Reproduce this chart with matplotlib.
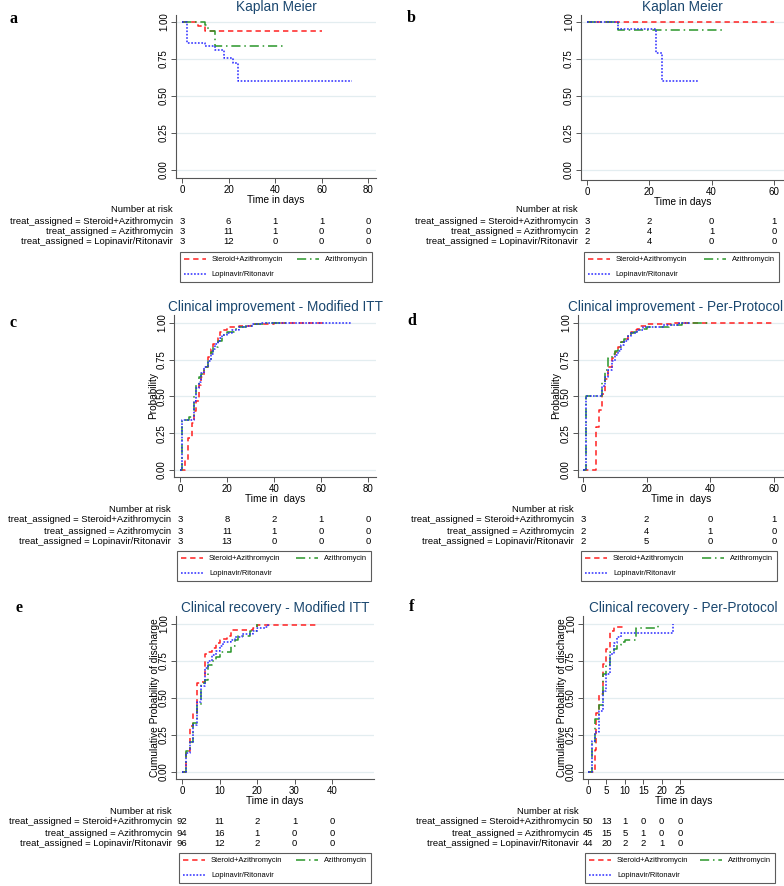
import matplotlib
matplotlib.use("Agg")
import matplotlib.pyplot as plt
from matplotlib.lines import Line2D
from matplotlib.transforms import blended_transform_factory

# ---- data ----
groups = ["Steroid+Azithromycin", "Azithromycin", "Lopinavir/Ritonavir"]

# a - Kaplan Meier (modified ITT)
a_ster_t = [0, 7, 10, 60]
a_ster_s = [1.0, 0.97, 0.94, 0.94]
a_azi_t = [0, 10, 11, 14, 44]
a_azi_s = [1.0, 0.98, 0.94, 0.84, 0.84]
a_lop_t = [0, 2, 10, 14, 18, 22, 24, 73]
a_lop_s = [1.0, 0.86, 0.835, 0.81, 0.76, 0.72, 0.60, 0.60]
a_risk_t = [0, 20, 40, 60, 80]
a_risk = [[3, 6, 1, 1, 0], [3, 11, 1, 0, 0], [3, 12, 0, 0, 0]]

# b - Kaplan Meier (per protocol)
b_ster_t = [0, 60]
b_ster_s = [1.0, 1.0]
b_azi_t = [0, 10, 44]
b_azi_s = [1.0, 0.944, 0.944]
b_lop_t = [0, 10, 22, 24, 36]
b_lop_s = [1.0, 0.95, 0.79, 0.60, 0.60]
b_risk_t = [0, 20, 40, 60]
b_risk = [[3, 2, 0, 1], [2, 4, 1, 0], [2, 4, 0, 0]]

# c - clinical improvement, modified ITT
c_ster_t = [0, 2, 3.5, 5, 6, 7, 8, 9, 10, 12, 13, 14, 16, 17, 18, 20, 22, 25, 30, 35, 40, 61]
c_ster_s = [0, 0.07, 0.22, 0.32, 0.40, 0.47, 0.58, 0.63, 0.70, 0.77, 0.82, 0.86, 0.90, 0.94,
            0.95, 0.97, 0.975, 0.98, 0.99, 0.995, 1.0, 1.0]
c_azi_t = [0, 1, 4, 6, 7, 8, 9, 10, 12, 13, 14, 16, 18, 20, 23, 25, 28, 32, 36, 45]
c_azi_s = [0, 0.34, 0.36, 0.50, 0.58, 0.63, 0.65, 0.70, 0.75, 0.80, 0.84, 0.88, 0.92, 0.94,
           0.96, 0.975, 0.98, 0.99, 1.0, 1.0]
c_lop_t = [0, 1, 6, 7, 8, 9, 10, 12, 13, 14, 15, 16, 17, 18, 20, 22, 25, 28, 31, 35, 73]
c_lop_s = [0, 0.34, 0.47, 0.56, 0.60, 0.66, 0.70, 0.74, 0.79, 0.82, 0.86, 0.88, 0.90, 0.92,
           0.93, 0.95, 0.97, 0.98, 0.99, 1.0, 1.0]
c_risk_t = [0, 20, 40, 60, 80]
c_risk = [[3, 8, 2, 1, 0], [3, 11, 1, 0, 0], [3, 13, 0, 0, 0]]

# d - clinical improvement, per protocol
d_ster_t = [0, 4, 5, 6, 7, 8, 9, 10, 11, 12, 13, 14, 15, 16, 17, 18, 20, 24, 28, 60]
d_ster_s = [0, 0.29, 0.41, 0.52, 0.62, 0.70, 0.76, 0.80, 0.84, 0.87, 0.89, 0.92, 0.94, 0.95,
            0.96, 0.98, 0.99, 0.995, 1.0, 1.0]
d_azi_t = [0, 1, 6, 7, 8, 9, 10, 11, 12, 13, 14, 15, 16, 18, 20, 23, 27, 31, 40]
d_azi_s = [0, 0.50, 0.60, 0.68, 0.76, 0.79, 0.81, 0.84, 0.87, 0.89, 0.91, 0.93, 0.94, 0.96,
           0.97, 0.975, 0.985, 1.0, 1.0]
d_lop_t = [0, 1, 6, 7, 8, 9, 10, 11, 12, 13, 14, 15, 17, 19, 21, 25, 30, 34]
d_lop_s = [0, 0.50, 0.57, 0.63, 0.68, 0.74, 0.78, 0.81, 0.85, 0.88, 0.91, 0.93, 0.95, 0.97,
           0.975, 0.985, 1.0, 1.0]
d_risk_t = [0, 20, 40, 60]
d_risk = [[3, 2, 0, 1], [2, 4, 1, 0], [2, 5, 0, 0]]

# e - clinical recovery, modified ITT
e_ster_t = [0, 1, 2, 3, 4, 5, 6, 7, 8, 9, 10, 11, 12, 13, 19, 20, 36]
e_ster_s = [0, 0.14, 0.31, 0.40, 0.60, 0.61, 0.80, 0.81, 0.84, 0.87, 0.89, 0.90, 0.92, 0.96,
            0.97, 0.99, 0.99]
e_azi_t = [0, 1, 2, 3, 4, 5, 6, 7, 8, 9, 10, 13, 14, 15, 18, 20]
e_azi_s = [0, 0.14, 0.20, 0.33, 0.45, 0.60, 0.62, 0.72, 0.75, 0.78, 0.81, 0.85, 0.89, 0.92,
           0.95, 1.0]
e_lop_t = [0, 1, 2, 3, 4, 5, 6, 7, 8, 9, 10, 11, 13, 14, 16, 19, 20, 22, 23]
e_lop_s = [0, 0.13, 0.20, 0.32, 0.47, 0.58, 0.70, 0.75, 0.79, 0.82, 0.85, 0.88, 0.89, 0.91,
           0.93, 0.95, 0.97, 0.98, 1.0]
e_risk_t = [0, 10, 20, 30, 40]
e_risk = [[92, 11, 2, 1, 0], [94, 16, 1, 0, 0], [96, 12, 2, 0, 0]]

# f - clinical recovery, per protocol
f_ster_t = [0, 2, 2.3, 3, 4, 5, 6, 7, 10]
f_ster_s = [0, 0.15, 0.40, 0.53, 0.73, 0.83, 0.95, 0.98, 0.98]
f_azi_t = [0, 1, 2, 3, 4, 5, 6, 7, 8, 9, 10, 13, 19]
f_azi_s = [0, 0.20, 0.36, 0.45, 0.66, 0.72, 0.81, 0.83, 0.86, 0.88, 0.89, 0.97, 1.0]
f_lop_t = [0, 1, 2, 3, 4, 5, 6, 7, 8, 9, 23]
f_lop_s = [0, 0.21, 0.27, 0.41, 0.55, 0.66, 0.80, 0.87, 0.91, 0.94, 1.0]
f_risk_t = [0, 5, 10, 15, 20, 25]
f_risk = [[50, 13, 1, 0, 0, 0], [45, 15, 5, 1, 0, 0], [44, 20, 2, 2, 1, 0]]

# ---- style ----
W, H = 784, 886
plt.rcParams['font.family'] = ['Liberation Sans', 'DejaVu Sans']
colors = ["#ff2020", "#2a962a", "#2a2aff"]
dashes = [(3.5, 2.5), (6, 2.5, 1, 2.5), (1.1, 1.1)]
title_col = "#1a476f"
grid_col = "#e3edf0"
axis_col = "#555555"

fig = plt.figure(figsize=(W / 100, H / 100), dpi=100)


def fx(px):
    return px / W


def fy(py):
    return 1 - py / H


def panel(letter, letter_xy, title, curves, risk_t, risk, ticks, box, xa, ya, ylabel,
          xlabel, rows_y, label_right, legend_box, title_dx=0):
    l, t, r, b = box
    ax = fig.add_axes([fx(l), fy(b), (r - l) / W, (b - t) / H])
    px0, px1, v0, v1 = xa
    k = (v1 - v0) / (px1 - px0)
    ax.set_xlim(v0 - (px0 - l) * k, v1 + (r - px1) * k)
    py1, py0 = ya
    ky = 1 / (py0 - py1)
    ax.set_ylim(-(b - py0) * ky, 1 + (py1 - t) * ky)

    for y in [0, 0.25, 0.5, 0.75, 1.0]:
        ax.axhline(y, color=grid_col, lw=0.9, zorder=0)
    for (tt, ss), c, d in zip(curves, colors, dashes):
        ax.step(tt, ss, where="post", color=c, lw=1.1, dashes=d)

    for s in ["top", "right"]:
        ax.spines[s].set_visible(False)
    for s in ["left", "bottom"]:
        ax.spines[s].set_color(axis_col)
        ax.spines[s].set_linewidth(0.8)
    ax.set_xticks(ticks)
    ax.set_yticks([0, 0.25, 0.5, 0.75, 1.0])
    ax.set_yticklabels(["0.00", "0.25", "0.50", "0.75", "1.00"], rotation=90, va="center")
    ax.tick_params(labelsize=7, length=3.5, width=0.7, color=axis_col, pad=1.5)
    ax.set_xlabel(xlabel, fontsize=7.3, labelpad=0.3)
    if ylabel:
        ax.set_ylabel(ylabel, fontsize=7.3)
        ax.yaxis.set_label_coords(-0.08, 0.5)

    fig.text(fx((l + r) / 2 + title_dx), fy(t - 8), title,
             ha="center", va="center", fontsize=9.8, color=title_col)
    fig.text(fx(letter_xy[0]), fy(letter_xy[1]), letter, ha="left", va="center",
             fontsize=11.5, fontweight="bold", family="Liberation Serif")

    # number at risk table
    tr = blended_transform_factory(ax.transData, fig.transFigure)
    fig.text(fx(label_right), fy(rows_y[0]), "Number at risk", ha="right",
             va="center", fontsize=6.8)
    for g, row, y in zip(groups, risk, rows_y[1:]):
        fig.text(fx(label_right), fy(y), "treat_assigned = " + g, ha="right",
                 va="center", fontsize=6.8)
        for tv, n in zip(risk_t, row):
            ax.text(tv, fy(y), str(n), transform=tr, ha="center", va="center",
                    fontsize=6.8, clip_on=False)

    handles = [Line2D([], [], color=c, lw=1.1, dashes=d) for c, d in zip(colors, dashes)]
    order = [0, 2, 1]
    lx0, ly0, lx1, ly1 = legend_box
    leg = ax.legend([handles[i] for i in order], [groups[i] for i in order], ncol=2,
                    loc="upper left", mode="expand",
                    bbox_to_anchor=(fx(lx0), fy(ly0), (lx1 - lx0) / W, 0),
                    bbox_transform=fig.transFigure, fontsize=5.4, frameon=True,
                    fancybox=False, edgecolor="#333333", handlelength=2.9,
                    handletextpad=0.8, labelspacing=1.0, borderpad=0.55,
                    borderaxespad=0, columnspacing=1.2)
    leg.get_frame().set_linewidth(0.8)
    return ax


panel("a", (9, 19), "Kaplan Meier",
      [(a_ster_t, a_ster_s), (a_azi_t, a_azi_s), (a_lop_t, a_lop_s)],
      a_risk_t, a_risk, [0, 20, 40, 60, 80],
      (176, 15, 376, 178), (182, 368, 0, 80), (22, 170), None, "Time in days",
      (210, 221, 231, 242), 173, (180, 252, 372, 282))

panel("b", (407, 18), "Kaplan Meier",
      [(b_ster_t, b_ster_s), (b_azi_t, b_azi_s), (b_lop_t, b_lop_s)],
      b_risk_t, b_risk, [0, 20, 40, 60],
      (581, 15, 784, 180), (587, 774, 0, 60), (22, 170), None, "Time in days",
      (210, 221, 231, 242), 578, (584, 252, 779, 282))

panel("c", (10, 323), "Clinical improvement - Modified ITT",
      [(c_ster_t, c_ster_s), (c_azi_t, c_azi_s), (c_lop_t, c_lop_s)],
      c_risk_t, c_risk, [0, 20, 40, 60, 80],
      (174, 315, 376, 477), (180, 368, 0, 80), (323, 470), "Probability", "Time in  days",
      (510, 520, 531, 542), 171, (177, 551, 371, 583))

panel("d", (407, 321), "Clinical improvement - Per-Protocol",
      [(d_ster_t, d_ster_s), (d_azi_t, d_azi_s), (d_lop_t, d_lop_s)],
      d_risk_t, d_risk, [0, 20, 40, 60],
      (578, 315, 784, 477), (583, 774, 0, 60), (323, 470), "Probability", "Time in  days",
      (510, 520, 531, 542), 574, (581, 551, 777, 583), title_dx=-5)

panel("e", (15, 608), "Clinical recovery - Modified ITT",
      [(e_ster_t, e_ster_s), (e_azi_t, e_azi_s), (e_lop_t, e_lop_s)],
      e_risk_t, e_risk, [0, 10, 20, 30, 40],
      (176, 616, 374, 779), (182, 332, 0, 40), (624, 772),
      "Cumulative Probability of discharge", "Time in days",
      (811, 822, 833, 844), 172, (179, 853, 371, 884))

panel("f", (409, 607), "Clinical recovery - Per-Protocol",
      [(f_ster_t, f_ster_s), (f_azi_t, f_azi_s), (f_lop_t, f_lop_s)],
      f_risk_t, f_risk, [0, 5, 10, 15, 20, 25],
      (583, 616, 784, 779), (588, 680, 0, 25), (624, 772),
      "Cumulative Probability of discharge", "Time in days",
      (811, 822, 833, 844), 579, (585, 853, 775, 884))

fig.savefig("out.png", dpi=100)
